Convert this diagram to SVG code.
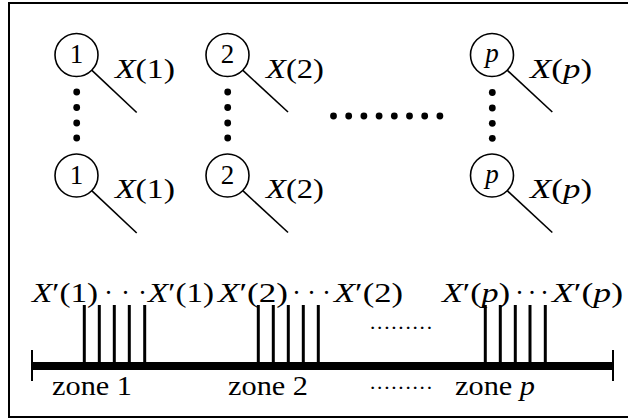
<svg xmlns="http://www.w3.org/2000/svg" width="628" height="419" viewBox="0 0 628 419">
<style>
text{font-family:'Liberation Serif','DejaVu Serif',serif;font-size:27px;fill:#000}
.it{font-style:italic}
.node{fill:none;stroke:#000;stroke-width:1.6}
.arm{stroke:#000;stroke-width:1.6;fill:none}
.bar{stroke:#000;stroke-width:3}
.dot{fill:#000}
</style>
<rect x="9" y="3" width="630" height="414" fill="#fff" stroke="#000" stroke-width="2"/>

<g font-family="Liberation Serif, DejaVu Serif, serif">
<g id="n1top">
<circle class="node" cx="76.5" cy="55" r="21.5"/>
<text x="76.5" y="63" text-anchor="middle">1</text>
<text x="115" y="78" textLength="60" lengthAdjust="spacingAndGlyphs"><tspan class="it">X</tspan>(1)</text>
</g>
<g id="n1bot">
<circle class="node" cx="76.5" cy="175.5" r="21.5"/>
<text x="76.5" y="183.5" text-anchor="middle">1</text>
<text x="115" y="198" textLength="60" lengthAdjust="spacingAndGlyphs"><tspan class="it">X</tspan>(1)</text>
</g>
<g id="n2top">
<circle class="node" cx="227.5" cy="55" r="21.5"/>
<text x="227.5" y="63" text-anchor="middle">2</text>
<text x="266" y="78" textLength="58" lengthAdjust="spacingAndGlyphs"><tspan class="it">X</tspan>(2)</text>
</g>
<g id="n2bot">
<circle class="node" cx="227.5" cy="175.5" r="21.5"/>
<text x="227.5" y="183.5" text-anchor="middle">2</text>
<text x="266" y="198" textLength="58" lengthAdjust="spacingAndGlyphs"><tspan class="it">X</tspan>(2)</text>
</g>
<g id="nptop">
<circle class="node" cx="492" cy="55" r="21.5"/>
<text x="492" y="62" text-anchor="middle" class="it">p</text>
<text x="530" y="78" textLength="62" lengthAdjust="spacingAndGlyphs"><tspan class="it">X</tspan>(<tspan class="it">p</tspan>)</text>
</g>
<g id="npbot">
<circle class="node" cx="492" cy="175.5" r="21.5"/>
<text x="492" y="182.5" text-anchor="middle" class="it">p</text>
<text x="530" y="198" textLength="62" lengthAdjust="spacingAndGlyphs"><tspan class="it">X</tspan>(<tspan class="it">p</tspan>)</text>
</g>

<g id="connectors">
<line class="arm" x1="91.7" y1="70.2" x2="136.7" y2="112.5"/>
<line class="arm" x1="91.7" y1="190.7" x2="136.7" y2="233"/>
<line class="arm" x1="242.7" y1="70.2" x2="288" y2="112"/>
<line class="arm" x1="242.7" y1="190.7" x2="288" y2="232.5"/>
<line class="arm" x1="507.2" y1="70.2" x2="552.3" y2="112"/>
<line class="arm" x1="507.2" y1="190.7" x2="552.3" y2="232.5"/>
</g>

<g id="vdots">
<circle class="dot" cx="76.7" cy="92" r="3.4"/>
<circle class="dot" cx="76.7" cy="107.5" r="3.4"/>
<circle class="dot" cx="76.7" cy="123" r="3.4"/>
<circle class="dot" cx="76.7" cy="138" r="3.4"/>
<circle class="dot" cx="227.7" cy="92" r="3.4"/>
<circle class="dot" cx="227.7" cy="107.5" r="3.4"/>
<circle class="dot" cx="227.7" cy="123" r="3.4"/>
<circle class="dot" cx="227.7" cy="138" r="3.4"/>
<circle class="dot" cx="492.3" cy="92.5" r="3.4"/>
<circle class="dot" cx="492.3" cy="108" r="3.4"/>
<circle class="dot" cx="492.3" cy="123.3" r="3.4"/>
<circle class="dot" cx="492.3" cy="138.3" r="3.4"/>
</g>
<g id="hdots">
<circle class="dot" cx="333.5" cy="116" r="3.4"/>
<circle class="dot" cx="348.7" cy="116" r="3.4"/>
<circle class="dot" cx="363.9" cy="116" r="3.4"/>
<circle class="dot" cx="379.1" cy="116" r="3.4"/>
<circle class="dot" cx="394.3" cy="116" r="3.4"/>
<circle class="dot" cx="409.5" cy="116" r="3.4"/>
<circle class="dot" cx="424.7" cy="116" r="3.4"/>
<circle class="dot" cx="439.9" cy="116" r="3.4"/>
</g>

<g id="labels">
<text x="32" y="302" textLength="66" lengthAdjust="spacingAndGlyphs"><tspan class="it">X</tspan>′(1)</text>
<text x="104" y="302" textLength="43" lengthAdjust="spacing">···</text>
<text x="148" y="302" textLength="66" lengthAdjust="spacingAndGlyphs"><tspan class="it">X</tspan>′(1)</text>
<text x="218" y="302" textLength="70" lengthAdjust="spacingAndGlyphs"><tspan class="it">X</tspan>′(2)</text>
<text x="292" y="302" textLength="39" lengthAdjust="spacing">···</text>
<text x="334" y="302" textLength="69" lengthAdjust="spacingAndGlyphs"><tspan class="it">X</tspan>′(2)</text>
<text x="442" y="302" textLength="68" lengthAdjust="spacingAndGlyphs"><tspan class="it">X</tspan>′(<tspan class="it">p</tspan>)</text>
<text x="515" y="302" textLength="34" lengthAdjust="spacing">···</text>
<text x="552" y="302" textLength="71" lengthAdjust="spacingAndGlyphs"><tspan class="it">X</tspan>′(<tspan class="it">p</tspan>)</text>
<text x="369" y="335" textLength="64" lengthAdjust="spacing" style="font-size:22px">·········</text>
</g>

<g id="axis">
<line x1="32" y1="366" x2="613" y2="366" stroke="#000" stroke-width="8"/>
<line x1="32" y1="350" x2="32" y2="381" stroke="#000" stroke-width="2"/>
<line x1="613" y1="350" x2="613" y2="381" stroke="#000" stroke-width="2"/>
</g>
<g id="bars">
<line class="bar" x1="84.3" y1="305" x2="84.3" y2="366"/>
<line class="bar" x1="99.3" y1="305" x2="99.3" y2="366"/>
<line class="bar" x1="114.3" y1="305" x2="114.3" y2="366"/>
<line class="bar" x1="129.3" y1="305" x2="129.3" y2="366"/>
<line class="bar" x1="144.7" y1="305" x2="144.7" y2="366"/>
<line class="bar" x1="258.3" y1="305" x2="258.3" y2="366"/>
<line class="bar" x1="273.3" y1="305" x2="273.3" y2="366"/>
<line class="bar" x1="288.3" y1="305" x2="288.3" y2="366"/>
<line class="bar" x1="303.3" y1="305" x2="303.3" y2="366"/>
<line class="bar" x1="318.3" y1="305" x2="318.3" y2="366"/>
<line class="bar" x1="485.3" y1="305" x2="485.3" y2="366"/>
<line class="bar" x1="500.3" y1="305" x2="500.3" y2="366"/>
<line class="bar" x1="515.3" y1="305" x2="515.3" y2="366"/>
<line class="bar" x1="530" y1="305" x2="530" y2="366"/>
<line class="bar" x1="545.3" y1="305" x2="545.3" y2="366"/>
</g>
<g id="zones">
<text x="52" y="395" textLength="80" lengthAdjust="spacingAndGlyphs">zone 1</text>
<text x="228" y="395" textLength="80" lengthAdjust="spacingAndGlyphs">zone 2</text>
<text x="369" y="395" textLength="64" lengthAdjust="spacing" style="font-size:22px">·········</text>
<text x="455" y="395" textLength="80" lengthAdjust="spacingAndGlyphs">zone <tspan class="it">p</tspan></text>
</g>
</g>
</svg>
